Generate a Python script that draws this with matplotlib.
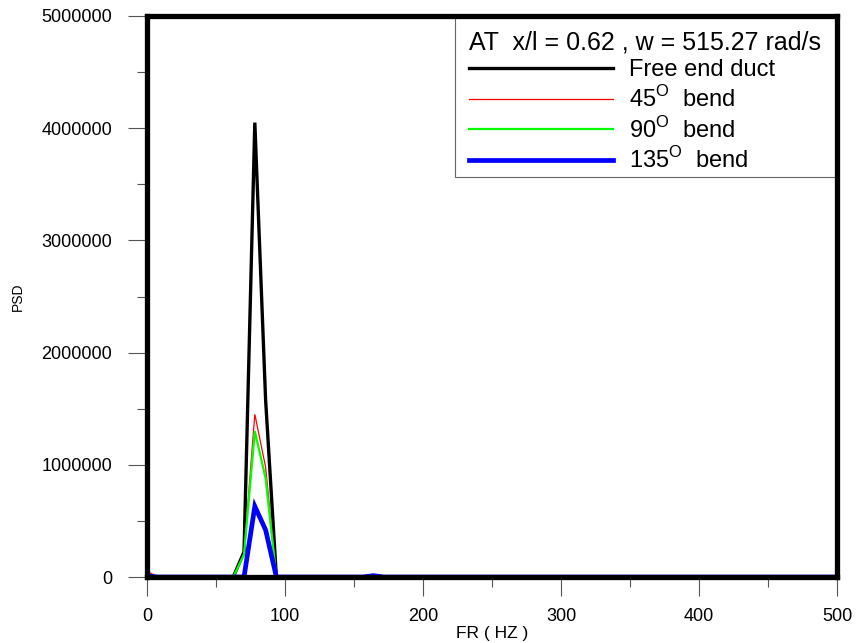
import numpy as np
import matplotlib.pyplot as plt
from matplotlib.patches import Rectangle
from matplotlib.ticker import MultipleLocator

plt.rcParams['font.family'] = ['Liberation Sans', 'DejaVu Sans']
plt.rcParams['mathtext.fontset'] = 'custom'
plt.rcParams['mathtext.rm'] = 'Liberation Sans'

# frequency samples (Hz) and PSD values
freq = [0, 7.81, 62.5, 70.31, 78.13, 85.94, 93.75, 156.25, 164.06, 171.88, 500]
psd_free = [0, 0, 0, 225000, 4050000, 1580000, 0, 0, 0, 0, 0]
psd_45 = [50000, 0, 0, 210000, 1450000, 980000, 0, 0, 0, 0, 0]
psd_90 = [20000, 0, 0, 200000, 1300000, 880000, 0, 0, 0, 0, 0]
psd_135 = [10000, 0, 0, 0, 630000, 420000, 0, 0, 12000, 0, 0]

labels = ['Free end duct', '45$^{\\mathrm{O}}$  bend', '90$^{\\mathrm{O}}$  bend', '135$^{\\mathrm{O}}$  bend']
colors = ['black', 'red', '#00ff00', 'blue']
widths = [2.4, 0.9, 1.6, 3.4]

fig = plt.figure(figsize=(8.58, 6.43), dpi=100)
ax = fig.add_axes([147 / 858, 66 / 643, 690 / 858, 561 / 643])

for y, lab, c, lw in zip([psd_free, psd_45, psd_90, psd_135], labels, colors, widths):
    ax.plot(freq, y, color=c, lw=lw, label=lab, solid_joinstyle='miter')

ax.set_xlim(0, 500)
ax.set_ylim(0, 5000000)
ax.xaxis.set_major_locator(MultipleLocator(100))
ax.xaxis.set_minor_locator(MultipleLocator(50))
ax.yaxis.set_major_locator(MultipleLocator(1000000))
ax.yaxis.set_minor_locator(MultipleLocator(500000))
ax.tick_params(which='major', direction='out', length=14, width=0.8, color='#555555',
               labelsize=13)
ax.tick_params(which='minor', direction='out', length=7, width=0.8, color='#555555')
ax.tick_params(axis='y', which='major', pad=11)
ax.tick_params(axis='x', which='major', pad=8)
ax.ticklabel_format(style='plain', axis='y')
for s in ax.spines.values():
    s.set_linewidth(3.8)
    s.set_color('black')
    s.set_zorder(6)

ax.set_xlabel('FR ( HZ )', fontsize=12.5, labelpad=1)
ax.set_ylabel('PSD', fontsize=10, labelpad=12)

# legend box drawn separately so its padding matches the original
ax.add_patch(Rectangle((0.4464, 0.713), 0.5536, 0.287, transform=ax.transAxes,
                       facecolor='white', edgecolor='#666666', lw=0.8, zorder=4))
leg = ax.legend(title='AT  x/l = 0.62 , w = 515.27 rad/s', loc='upper left',
                bbox_to_anchor=(0.4667, 0.974), borderaxespad=0.0, fontsize=17,
                title_fontsize=18, handlelength=6.1, handletextpad=0.68,
                labelspacing=0.2, frameon=False, borderpad=0.0)
leg._legend_box.align = 'left'
leg.set_zorder(5)

fig.savefig('out.png', dpi=100)
